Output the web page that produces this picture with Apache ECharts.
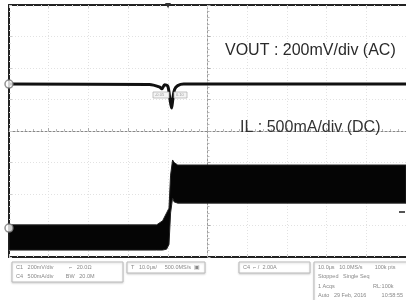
<!DOCTYPE html>
<html><head><meta charset="utf-8">
<script src="https://cdn.jsdelivr.net/npm/echarts@6/dist/echarts.min.js"></script>
<style>html,body{margin:0;padding:0;background:#fff}#c{width:406px;height:300px}</style>
</head><body><div id="c"></div>
<script>
// time in divisions (-5..5), amplitude in divisions (-4..4)
var voutTime = [-5, -1.46, -1.21, -1.15, -1.08, -1.00, -0.95, -0.905, -0.87, -0.83, -0.75, -0.6, 5];
var voutVal  = [1.49, 1.48, 1.40, 1.34, 1.47, 1.42, 1.05, 0.73, 1.05, 1.32, 1.44, 1.49, 1.49];
var ilTime   = [-5, -1.28, -1.13, -1.03, -0.97, -0.93, -0.88, -0.84, -0.75, 5];
var ilTop    = [-2.98, -2.98, -2.85, -2.60, -2.45, -1.40, -0.92, -1.00, -1.08, -1.08];
var ilBottom = [-3.78, -3.78, -3.78, -3.75, -3.60, -2.60, -2.13, -2.25, -2.29, -2.29];
var chMarkers = [[-5, 1.49], [-5, -3.08]];
var labelVout = "VOUT : 200mV/div (AC)";
var labelIL = "IL : 500mA/div (DC)";

var chart = echarts.init(document.getElementById('c'), null, {renderer: 'canvas'});
var gridLine = {show: true, lineStyle: {color: '#e2e2e2', type: [1, 2], width: 1}};
var centerAxisX = {
  type: 'value', min: -5, max: 5, interval: 1, position: 'bottom',
  axisLine: {show: true, onZero: true, lineStyle: {color: '#888', type: [2, 2], width: 1}},
  axisTick: {show: true, inside: true, length: 3, lineStyle: {color: '#aaa'}},
  minorTick: {show: true, splitNumber: 5, length: 2, lineStyle: {color: '#bbb'}},
  axisLabel: {show: false}, splitLine: gridLine
};
var centerAxisY = {
  type: 'value', min: -4, max: 4, interval: 1, position: 'left',
  axisLine: {show: true, onZero: true, lineStyle: {color: '#999', type: [2, 2], width: 1}},
  axisTick: {show: true, inside: true, length: 3, lineStyle: {color: '#aaa'}},
  minorTick: {show: true, splitNumber: 5, length: 2, lineStyle: {color: '#bbb'}},
  axisLabel: {show: false}, splitLine: gridLine
};
function borderAxis(pos, isX) {
  return {
    type: 'value', min: isX ? -5 : -4, max: isX ? 5 : 4, interval: 1, position: pos,
    axisLine: {show: true, onZero: false, lineStyle: {color: '#222', width: 2}},
    axisTick: {show: true, inside: true, length: 3, lineStyle: {color: '#ccc'}},
    minorTick: {show: true, splitNumber: 5, length: 2, lineStyle: {color: '#ddd'}},
    axisLabel: {show: false}, splitLine: {show: false}
  };
}
function boxText(x, y, w, h, lines) {
  var els = [{type: 'rect', shape: {x: x, y: y, width: w, height: h},
    style: {fill: '#fff', stroke: '#bbb', lineWidth: 1, shadowColor: 'rgba(0,0,0,0.15)', shadowBlur: 2, shadowOffsetY: 1}}];
  lines.forEach(function (t, i) {
    els.push({type: 'text', x: x + 4, y: y + 2 + i * 9.5,
      style: {text: t, fill: '#888', font: '5.5px "Liberation Sans"'}});
  });
  return els;
}
var graphics = [
  {type: 'text', left: 225, top: 43, z: 10,
   style: {text: labelVout, fill: '#2a2a2a', font: '16px "Liberation Sans", Arial'}},
  {type: 'text', left: 240, top: 120, z: 10,
   style: {text: labelIL, fill: '#333', font: '16px "Liberation Sans", Arial'}},
  {type: 'rect', shape: {x: 153, y: 92, width: 16, height: 6}, style: {fill: '#f4f4f4', stroke: '#aaa', lineWidth: 0.7}, z: 5},
  {type: 'rect', shape: {x: 174, y: 92, width: 13, height: 6}, style: {fill: '#f4f4f4', stroke: '#aaa', lineWidth: 0.7}, z: 5},
  {type: 'text', x: 155, y: 93, style: {text: '-0.05', fill: '#999', font: '4px "Liberation Sans"'}, z: 6},
  {type: 'text', x: 176, y: 93, style: {text: '0.10', fill: '#999', font: '4px "Liberation Sans"'}, z: 6},
  {type: 'polygon', shape: {points: [[165, 3], [171, 3], [168, 8]]}, style: {fill: '#333'}, z: 6},
  {type: 'rect', shape: {x: 399, y: 211, width: 6, height: 2}, style: {fill: '#555'}, z: 6}
].concat(
  boxText(12, 262, 111, 20, ['C1   200mV/div          ⌐   20.0Ω      ', 'C4   500mA/div        BW   20.0M']),
  boxText(127, 262, 78, 11, ['T   10.0μs/     500.0MS/s  ▣']),
  boxText(239, 262, 71, 11, ['C4  ⌐ /  2.00A']),
  boxText(314, 262, 95, 40, ['10.0μs   10.0MS/s        100k pts', 'Stopped   Single Seq', '1 Acqs                         RL:100k', 'Auto   29 Feb, 2016          10:58:55'])
);

chart.setOption({
  animation: false,
  backgroundColor: '#fff',
  grid: {left: 9, top: 5, width: 398, height: 252, show: false},
  xAxis: [centerAxisX, borderAxis('top', true), borderAxis('bottom', true)],
  yAxis: [centerAxisY, borderAxis('left', false)],
  graphic: graphics,
  series: [
    {
      type: 'custom', xAxisIndex: 0, yAxisIndex: 0, data: [0], z: 3,
      renderItem: function (params, api) {
        var pts = [];
        for (var i = 0; i < ilTime.length; i++) pts.push(api.coord([ilTime[i], ilTop[i]]));
        for (var j = ilTime.length - 1; j >= 0; j--) pts.push(api.coord([ilTime[j], ilBottom[j]]));
        return {type: 'polygon', shape: {points: pts}, style: {fill: '#050505', stroke: '#222', lineWidth: 1}};
      }
    },
    {
      type: 'line', xAxisIndex: 0, yAxisIndex: 0, z: 4,
      data: voutTime.map(function (t, i) { return [t, voutVal[i]]; }),
      showSymbol: false, smooth: 0.3,
      lineStyle: {color: '#111', width: 3}
    },
    {
      type: 'scatter', xAxisIndex: 0, yAxisIndex: 0, z: 7,
      data: chMarkers, symbol: 'circle', symbolSize: 8,
      itemStyle: {color: '#fff', borderColor: '#777', borderWidth: 1.5}
    }
  ]
});
</script></body></html>
